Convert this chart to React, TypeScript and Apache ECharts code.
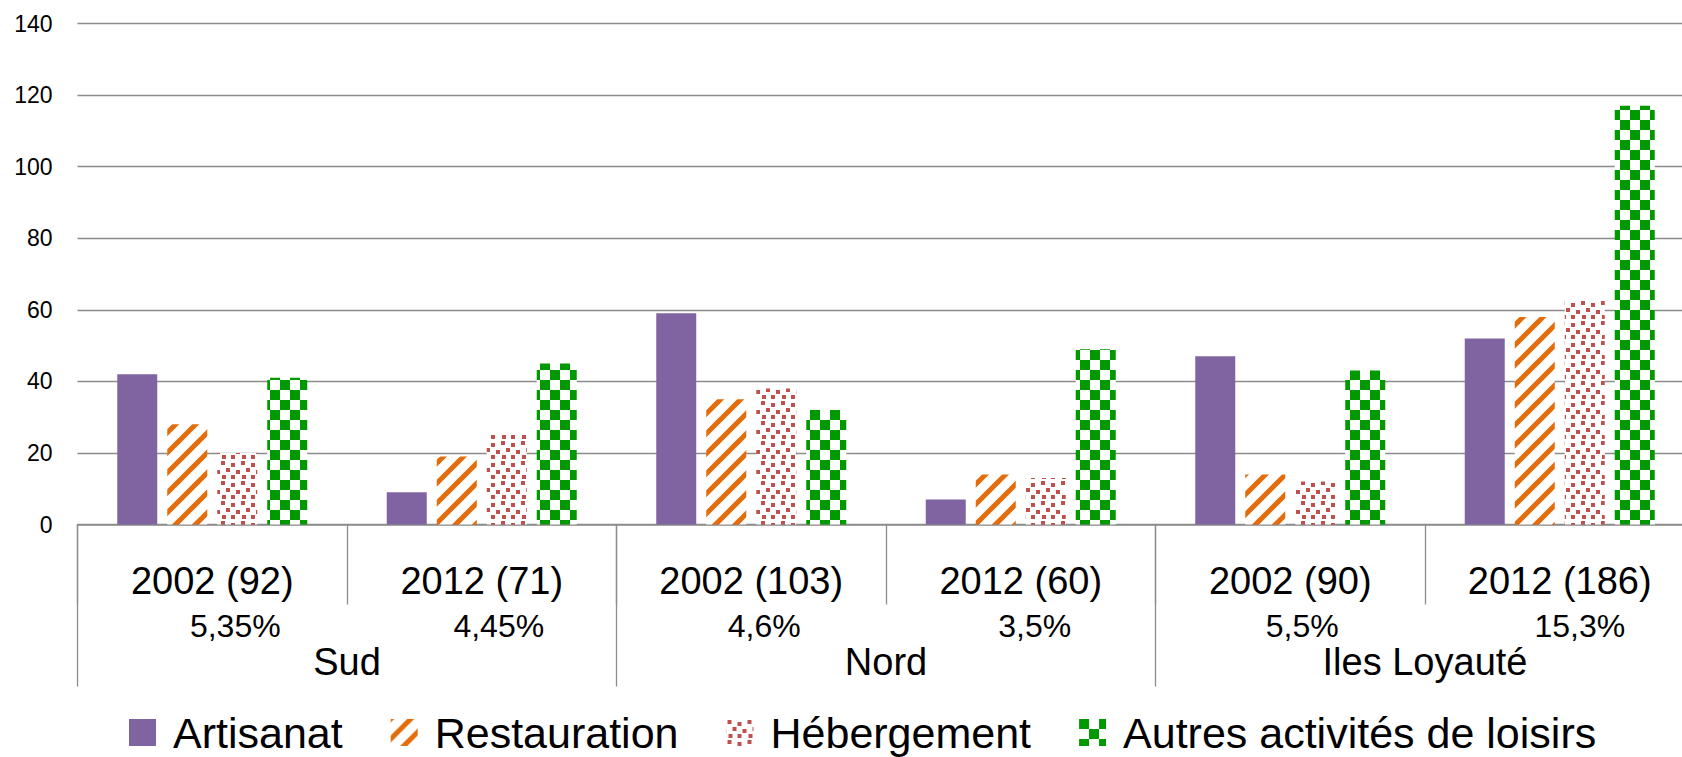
import React, { useEffect, useRef } from 'react';
import * as echarts from 'echarts';

// ---- data ----
const years = ['2002 (92)', '2012 (71)', '2002 (103)', '2012 (60)', '2002 (90)', '2012 (186)'];
const shares = ['5,35%', '4,45%', '4,6%', '3,5%', '5,5%', '15,3%'];
const regions = ['Sud', 'Nord', 'Iles Loyauté'];
const seriesNames = ['Artisanat', 'Restauration', 'Hébergement', 'Autres activités de loisirs'];
const artisanat = [42, 9, 59, 7, 47, 52];
const restauration = [28, 19, 35, 14, 14, 58];
const hebergement = [20, 25, 38, 13, 12, 63];
const autres = [41, 45, 32, 49, 43, 117];
const yMin = 0;
const yMax = 140;
const yStep = 20;

// ---- layout nudges (percent labels sit slightly right of centre, as in the original) ----
const shareNudge = [46, 34, 26, 28, 24, 40];

const FONT = "'Liberation Sans', Arial, sans-serif";
const GRAY = '#8c8c8c';

function makeCanvas(w: number, h: number) {
  const c = document.createElement('canvas');
  c.width = w;
  c.height = h;
  const g = c.getContext('2d')!;
  g.fillStyle = '#ffffff';
  g.fillRect(0, 0, w, h);
  return { c, g };
}

function stripePattern(color: string) {
  const { c, g } = makeCanvas(20, 20);
  g.strokeStyle = color;
  g.lineWidth = 5;
  for (const o of [-20, 0, 20]) {
    g.beginPath();
    g.moveTo(o - 5, 25);
    g.lineTo(o + 25, -5);
    g.stroke();
  }
  return c;
}

function confettiPattern(color: string) {
  const { c, g } = makeCanvas(20, 20);
  g.fillStyle = color;
  const dots = [
    [1, 1], [11, 3], [6, 8], [16, 10], [2, 15], [11, 15],
  ];
  for (const [x, y] of dots) g.fillRect(x, y, 4, 4);
  return c;
}

function checkerPattern(color: string) {
  const { c, g } = makeCanvas(20, 20);
  g.fillStyle = color;
  g.fillRect(0, 0, 10, 10);
  g.fillRect(10, 10, 10, 10);
  return c;
}

export default function App() {
  const ref = useRef<HTMLDivElement>(null);

  useEffect(() => {
    if (!ref.current) return;
    const chart = echarts.init(ref.current, null, { renderer: 'svg' });

    const fills: any[] = [
      '#8064A2',
      { image: stripePattern('#E46C0A'), repeat: 'repeat' },
      { image: confettiPattern('#C0504D'), repeat: 'repeat' },
      { image: checkerPattern('#009900'), repeat: 'repeat' },
    ];
    const values = [artisanat, restauration, hebergement, autres];

    const rich: Record<string, any> = {};
    shareNudge.forEach((p, i) => {
      rich['p' + i] = { fontSize: 32, fontFamily: FONT, color: '#000', padding: [0, 0, 0, p] };
    });

    chart.setOption({
      animation: false,
      backgroundColor: '#ffffff',
      grid: {
        left: 77.5,
        top: 23.5,
        bottom: 232.5,
        right: -12.5,
        containLabel: false,
        outerBoundsMode: 'none',
      },
      legend: {
        data: seriesNames,
        left: 129,
        top: 711,
        padding: 0,
        itemWidth: 27,
        itemHeight: 27,
        itemGap: 48,
        icon: 'rect',
        formatter: (n: string) => `{t|${n}}`,
        textStyle: {
          fontSize: 43,
          color: '#000',
          fontFamily: FONT,
          rich: { t: { fontSize: 43, color: '#000', fontFamily: FONT, padding: [0, 0, 0, 12] } },
        },
      },
      xAxis: [
        {
          type: 'category',
          data: years,
          position: 'bottom',
          axisLine: { show: true, lineStyle: { color: GRAY, width: 1.5 } },
          axisTick: { show: true, length: 80, interval: 0, lineStyle: { color: GRAY, width: 1.3 } },
          axisLabel: {
            interval: 0,
            margin: 56,
            verticalAlign: 'middle',
            fontSize: 38,
            color: '#000',
            fontFamily: FONT,
          },
          splitLine: { show: false },
        },
        {
          type: 'category',
          data: shares,
          position: 'bottom',
          axisLine: { show: false },
          axisTick: { show: false },
          axisLabel: {
            interval: 0,
            margin: 101,
            verticalAlign: 'middle',
            fontSize: 32,
            color: '#000',
            fontFamily: FONT,
            formatter: (v: string, i: number) => `{p${i}|${v}}`,
            rich,
          },
          splitLine: { show: false },
        },
        {
          type: 'category',
          data: regions,
          position: 'bottom',
          axisLine: { show: false },
          axisTick: { show: true, length: 162, interval: 0, lineStyle: { color: GRAY, width: 1.3 } },
          axisLabel: {
            interval: 0,
            margin: 137,
            verticalAlign: 'middle',
            fontSize: 38,
            color: '#000',
            fontFamily: FONT,
          },
          splitLine: { show: false },
        },
      ],
      yAxis: {
        type: 'value',
        min: yMin,
        max: yMax,
        interval: yStep,
        axisLine: { show: false },
        axisTick: { show: false },
        axisLabel: { fontSize: 23, color: '#000', fontFamily: FONT, margin: 25 },
        splitLine: { show: true, lineStyle: { color: GRAY, width: 1.3 } },
      },
      series: seriesNames.map((name, i) => ({
        name,
        type: 'bar',
        xAxisIndex: 0,
        data: values[i],
        barWidth: 40,
        barGap: '25%',
        itemStyle: { color: fills[i] },
      })),
    });

    return () => chart.dispose();
  }, []);

  return (
    <div
      ref={ref}
      style={{ position: 'fixed', left: 0, top: 0, width: 1682, height: 757, background: '#fff' }}
    />
  );
}
